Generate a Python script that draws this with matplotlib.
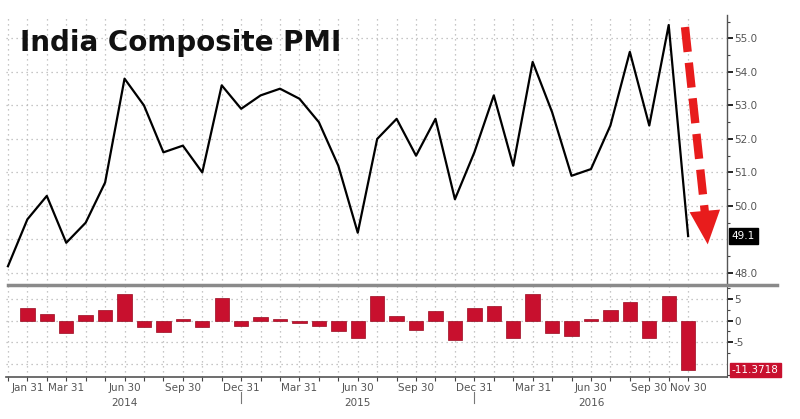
import matplotlib
matplotlib.use("Agg")
import matplotlib.pyplot as plt
from matplotlib.lines import Line2D
from matplotlib.patches import FancyArrowPatch

# ---- data ----
months = ["Dec13", "Jan14", "Feb14", "Mar14", "Apr14", "May14", "Jun14", "Jul14", "Aug14",
          "Sep14", "Oct14", "Nov14", "Dec14", "Jan15", "Feb15", "Mar15", "Apr15", "May15",
          "Jun15", "Jul15", "Aug15", "Sep15", "Oct15", "Nov15", "Dec15", "Jan16", "Feb16",
          "Mar16", "Apr16", "May16", "Jun16", "Jul16", "Aug16", "Sep16", "Oct16", "Nov16"]
pmi = [48.2, 49.6, 50.3, 48.9, 49.5, 50.7, 53.8, 53.0, 51.6, 51.8, 51.0, 53.6,
       52.9, 53.3, 53.5, 53.2, 52.5, 51.2, 49.2, 52.0, 52.6, 51.5, 52.6, 50.2,
       51.6, 53.3, 51.2, 54.3, 52.8, 50.9, 51.1, 52.4, 54.6, 52.4, 55.4, 49.1]
# month-over-month % change (Jan14 .. Nov16)
pct_change = [2.90, 1.41, -2.78, 1.23, 2.42, 6.11, -1.49, -2.64, 0.39, -1.54, 5.10, -1.31,
              0.76, 0.38, -0.56, -1.32, -2.48, -3.91, 5.69, 1.15, -2.09, 2.14, -4.56, 2.79,
              3.29, -3.94, 6.05, -2.76, -3.60, 0.39, 2.54, 4.20, -4.03, 5.73, -11.37]
tick_idx = [1, 3, 6, 9, 12, 15, 18, 21, 24, 27, 30, 33, 35]
tick_labels = ["Jan 31", "Mar 31", "Jun 30", "Sep 30", "Dec 31", "Mar 31", "Jun 30",
               "Sep 30", "Dec 31", "Mar 31", "Jun 30", "Sep 30", "Nov 30"]
year_idx = [6, 18, 30]
year_labels = ["2014", "2015", "2016"]
year_sep_idx = [12, 24]
top_ticks = [48.0, 50.0, 51.0, 52.0, 53.0, 54.0, 55.0]
bot_ticks = [-5, 0, 5]
last_pmi_label = "49.1"
last_chg_label = "-11.3718"
title = "India Composite PMI"

# ---- style ----
RED = "#c8102e"
GRID = dict(color="#b4b4b4", linestyle=(0, (1, 3)), linewidth=0.9)
TXT = "#555555"

fig = plt.figure(figsize=(8.0, 4.19), dpi=100)
W, H = 800, 419
def box(x0, y0, x1, y1):
    return [x0 / W, 1 - y1 / H, (x1 - x0) / W, (y1 - y0) / H]

ax = fig.add_axes(box(6, 15, 727, 285))
axb = fig.add_axes(box(6, 285, 727, 377), sharex=ax)

x = list(range(len(pmi)))
xb = x[1:]

# top panel
ax.plot(x, pmi, color="black", lw=1.6, zorder=3)
ax.set_xlim(-0.1, 37.0)
ax.set_ylim(47.64, 55.7)
ax.set_xticks(x, minor=False)
ax.grid(True, which="major", **GRID)
ax.yaxis.tick_right()
ax.set_yticks(top_ticks)
ax.set_yticks([48.5, 49.5, 50.5, 51.5, 52.5, 53.5, 54.5, 55.5], minor=True)
ax.set_yticklabels([f"{t:.1f}" for t in top_ticks])
ax.tick_params(axis="y", which="major", direction="out", length=4, width=1.2,
               colors="black", labelcolor=TXT, labelsize=7.5, pad=1)
ax.tick_params(axis="y", which="minor", direction="out", length=2, width=0.8, colors="#444")
ax.tick_params(axis="x", which="both", length=0, labelbottom=False)
for s in ["top", "left", "bottom"]:
    ax.spines[s].set_visible(False)
ax.spines["right"].set_color("#555555")
ax.spines["right"].set_linewidth(1.0)
ax.axhline(49.0, **GRID)

ax.text(0.019, 0.895, title, transform=ax.transAxes, fontsize=20, fontweight="bold",
        color="#111111", ha="left", va="center", family="DejaVu Sans", zorder=5)

ax.text(37.25, pmi[-1], last_pmi_label, color="white", fontsize=7.5, va="center", ha="left",
        bbox=dict(boxstyle="square,pad=0.3", fc="black", ec="black"), clip_on=False)

# red dashed arrow
ax.plot([34.84, 35.88], [55.34, 49.7], color="#e81c1c", lw=6, linestyle=(0, (3, 1.3)),
        solid_capstyle="butt", dash_capstyle="butt", zorder=4)
arr = FancyArrowPatch((35.87, 49.78), (36.02, 48.77),
                      arrowstyle="-|>,head_width=0.5,head_length=1.1",
                      mutation_scale=22, color="#e81c1c", lw=0, zorder=4)
ax.add_patch(arr)

# bottom panel
axb.bar(xb, pct_change, width=0.74, color=RED, edgecolor="#9a0a20", linewidth=0.5, zorder=3)
axb.set_ylim(-13.0, 8.2)
axb.grid(True, which="major", **GRID)
axb.axhline(-10, **GRID)
axb.yaxis.tick_right()
axb.set_yticks(bot_ticks)
axb.set_yticks([-12.5, -7.5, -2.5, 2.5, 7.5], minor=True)
axb.set_yticklabels([str(t) for t in bot_ticks])
axb.tick_params(axis="y", which="major", direction="out", length=4, width=1.2,
                colors="black", labelcolor=TXT, labelsize=7.5, pad=1)
axb.tick_params(axis="y", which="minor", direction="out", length=2, width=0.8, colors="#444")
axb.set_xticks(x)
axb.set_xticklabels([""] * len(x))
axb.tick_params(axis="x", direction="out", length=3, width=0.8, colors="#444")
for s in ["top", "left"]:
    axb.spines[s].set_visible(False)
axb.spines["right"].set_color("#555555")
axb.spines["bottom"].set_color("#555555")
axb.spines["bottom"].set_linewidth(1.2)

for i, lab in zip(tick_idx, tick_labels):
    axb.annotate(lab, (i, 0), xycoords=("data", "axes fraction"), xytext=(0, -4),
                 textcoords="offset points", ha="center", va="top", fontsize=7.5, color=TXT)
for i, lab in zip(year_idx, year_labels):
    axb.annotate(lab, (i, 0), xycoords=("data", "axes fraction"), xytext=(0, -15),
                 textcoords="offset points", ha="center", va="top", fontsize=7.5, color=TXT)
for i in year_sep_idx:
    axb.add_line(Line2D([i, i], [-0.16, -0.28], transform=axb.get_xaxis_transform(),
                        color="#777777", lw=0.8, clip_on=False))

axb.text(37.25, pct_change[-1], last_chg_label, color="white", fontsize=7.5, va="center",
         ha="left", bbox=dict(boxstyle="square,pad=0.2", fc=RED, ec=RED), clip_on=False)

# gray separator line between panels
fig.add_artist(Line2D([8 / W, 777 / W], [1 - 285 / H, 1 - 285 / H], color="#8a8a8a", lw=2.5))

fig.savefig("out.png", dpi=100, facecolor="white")
